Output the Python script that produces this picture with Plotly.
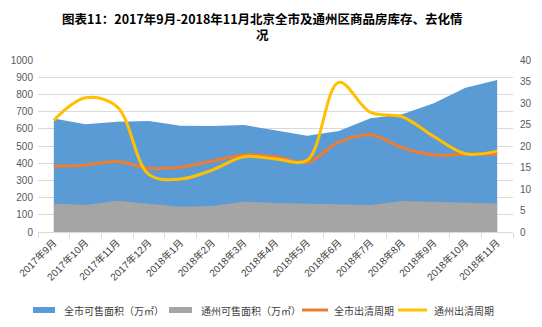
import plotly.graph_objects as go

# Monthly categories
months = ["2017年9月", "2017年10月", "2017年11月", "2017年12月", "2018年1月",
          "2018年2月", "2018年3月", "2018年4月", "2018年5月", "2018年6月",
          "2018年7月", "2018年8月", "2018年9月", "2018年10月", "2018年11月"]

# Saleable area (10k m²)
city_area = [660, 626, 641, 645, 618, 616, 622, 593, 560, 587, 661, 684, 748, 839, 884]
tongzhou_area = [165, 157, 182, 163, 147, 151, 176, 169, 165, 163, 157, 180, 174, 167, 165]

# Sell-through period (months)
city_cycle = [15.3, 15.6, 16.4, 14.8, 15.1, 16.5, 17.9, 17.5, 16.2, 20.9, 22.6, 19.6, 17.9, 18.1, 18.1]
tongzhou_cycle = [26.0, 31.2, 29.1, 13.4, 12.3, 14.4, 17.5, 17.0, 16.7, 34.8, 27.8, 26.8, 22.2, 18.2, 18.8]

series_names = ["全市可售面积（万㎡）", "通州可售面积（万㎡）", "全市出清周期", "通州出清周期"]
title_text = "图表11：2017年9月-2018年11月北京全市及通州区商品房库存、去化情<br>况"

BLUE = "#5B9BD5"
GRAY = "#A5A5A5"
ORANGE = "#ED7D31"
YELLOW = "#FFC000"
W, H = 542, 327
ML, MR, MT, MB = 38, 29, 60, 95
TICK_FONT = dict(family="Liberation Sans, Arial, Noto Sans CJK SC", size=10, color="#595959")
TITLE_FONT = dict(family="Noto Sans CJK SC", size=12.5, color="black", weight="bold")
LEGEND_FONT = dict(family="Noto Sans CJK SC", size=10, color="#404040")

fig = go.Figure()
fig.add_trace(go.Scatter(x=months, y=city_area, name=series_names[0],
                         mode="lines", fill="tozeroy", fillcolor=BLUE,
                         line=dict(color=BLUE, width=0)))
fig.add_trace(go.Scatter(x=months, y=tongzhou_area, name=series_names[1],
                         mode="lines", fill="tozeroy", fillcolor=GRAY,
                         line=dict(color=GRAY, width=0)))
fig.add_trace(go.Scatter(x=months, y=city_cycle, name=series_names[2], yaxis="y2",
                         mode="lines", line=dict(color=ORANGE, width=3, shape="spline")))
fig.add_trace(go.Scatter(x=months, y=tongzhou_cycle, name=series_names[3], yaxis="y2",
                         mode="lines", line=dict(color=YELLOW, width=3, shape="spline")))

# Bold two-line title
fig.add_annotation(text=title_text, xref="paper", yref="paper", x=0.472,
                   y=1 + (MT - 26) / (H - MT - MB), xanchor="center", yanchor="middle",
                   showarrow=False, font=TITLE_FONT)

# Legend row below the axis: (symbol kind, colour, symbol x0, x1, text x) in pixels
legend_row_y = 310
legend_items = [("rect", BLUE, 33, 55, 62),
                ("rect", GRAY, 169, 192, 199),
                ("line", ORANGE, 302, 328, 332),
                ("line", YELLOW, 398, 427, 432)]


def px_x(p):
    return (p - ML) / (W - ML - MR)


def px_y(p):
    return (H - MB - p) / (H - MT - MB)


for name, (kind, color, x0, x1, tx) in zip(series_names, legend_items):
    if kind == "rect":
        fig.add_shape(type="rect", xref="paper", yref="paper",
                      x0=px_x(x0), x1=px_x(x1), y0=px_y(legend_row_y + 3), y1=px_y(legend_row_y - 3),
                      fillcolor=color, line=dict(width=0))
    else:
        fig.add_shape(type="line", xref="paper", yref="paper",
                      x0=px_x(x0), x1=px_x(x1), y0=px_y(legend_row_y), y1=px_y(legend_row_y),
                      line=dict(color=color, width=3))
    fig.add_annotation(text=name, xref="paper", yref="paper", x=px_x(tx), y=px_y(legend_row_y),
                       xanchor="left", yanchor="middle", showarrow=False, font=LEGEND_FONT)

fig.update_layout(
    width=W, height=H,
    margin=dict(l=ML, r=MR, t=MT, b=MB),
    paper_bgcolor="white", plot_bgcolor="white",
    showlegend=False,
    xaxis=dict(type="category", range=[-0.5, 14.5], tickangle=-45, automargin=False,
               tickfont=dict(family="Liberation Sans, Arial, Noto Sans CJK SC", size=10, color="#404040"),
               showline=True, linecolor="#D9D9D9", linewidth=1,
               ticks="outside", tickson="boundaries", ticklen=5, tickcolor="#D9D9D9",
               showgrid=False),
    yaxis=dict(range=[0, 1000], dtick=100, tickfont=TICK_FONT, automargin=False,
               showgrid=True, gridcolor="#D9D9D9", gridwidth=1,
               zeroline=False, showline=False, ticks="", ticklabelstandoff=4),
    yaxis2=dict(range=[0, 40], dtick=5, overlaying="y", side="right", tickfont=TICK_FONT,
                automargin=False, showgrid=False, zeroline=False, showline=False, ticks="",
                ticklabelstandoff=6),
)

fig.write_html("out.html")
